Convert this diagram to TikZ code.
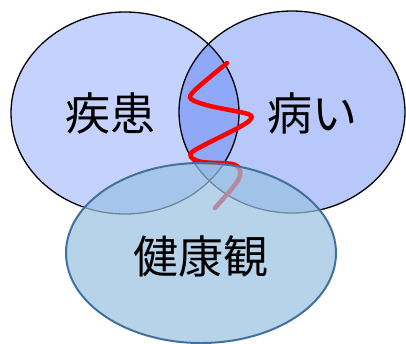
\documentclass[tikz,border=0pt]{standalone}
\usepackage{fontspec}
\newfontfamily\jpfont{Noto Sans CJK JP}
\definecolor{leftfill}{RGB}{197,210,254}
\definecolor{rightfill}{RGB}{184,200,250}
\definecolor{midfill}{RGB}{144,168,248}
\definecolor{basefill}{RGB}{154,193,226}
\definecolor{baseline}{RGB}{65,113,156}

\begin{document}
\begin{tikzpicture}[x=1pt,y=-1pt,
 lbl/.style={font=\jpfont\fontsize{45}{50}\selectfont,inner sep=0pt},
 rim/.style={draw=black,line width=1.3pt},
 wave/.style={draw=red,line width=4.5pt,line cap=round}]
\useasboundingbox (0,0) rectangle (406,343);
\fill[leftfill] (125,113) ellipse (114 and 101);
\fill[rightfill] (292,112) ellipse (113 and 101);
\begin{scope}
 \clip (125,113) ellipse (114 and 101);
 \fill[midfill] (292,112) ellipse (113 and 101);
\end{scope}
\path[rim] (125,113) ellipse (114 and 101);
\path[rim] (292,112) ellipse (113 and 101);
\path[wave] plot[smooth,tension=0.5] coordinates
 {(227,63) (195,90) (191,99) (210,106) (248,114) (250,120) (236,129)
  (195,150) (191,157) (202,162) (232,164) (240,170) (237,182) (215,208)};
\path[fill=basefill,fill opacity=0.71,draw=baseline,line width=2pt]
 (201,253) ellipse (135 and 90);
\node[lbl] (shikkan) at (110,113) {疾患};
\node[lbl] (yamai) at (312,113) {病い};
\node[lbl] (kenko) at (201,256) {健康観};
\end{tikzpicture}
\end{document}
